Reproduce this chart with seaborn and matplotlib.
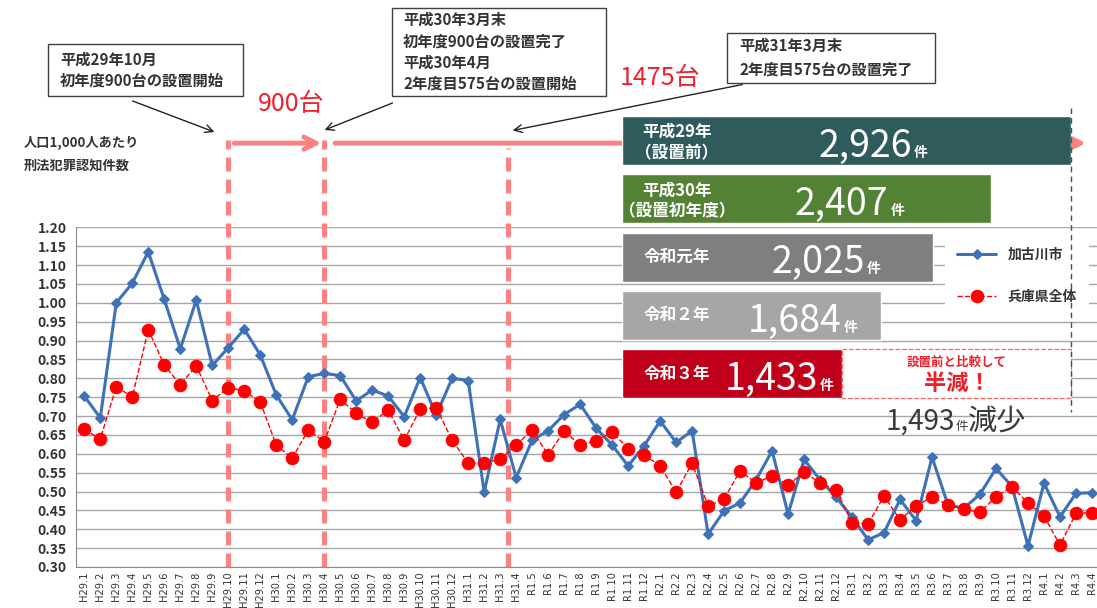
import numpy as np
import pandas as pd
import matplotlib
matplotlib.use("Agg")
import matplotlib.pyplot as plt
import seaborn as sns
from matplotlib.patches import Rectangle

# ---- データ ----
months = ([f"H29.{m}" for m in range(1, 13)] + [f"H30.{m}" for m in range(1, 13)]
          + [f"H31.{m}" for m in range(1, 5)] + [f"R1.{m}" for m in range(5, 13)]
          + [f"R2.{m}" for m in range(1, 13)] + [f"R3.{m}" for m in range(1, 13)]
          + [f"R4.{m}" for m in range(1, 5)])

kakogawa = [0.753, 0.695, 1.000, 1.052, 1.135, 1.009, 0.878, 1.007, 0.834, 0.881, 0.930, 0.862,
            0.756, 0.690, 0.804, 0.813, 0.807, 0.740, 0.769, 0.753, 0.698, 0.802, 0.703, 0.800,
            0.794, 0.498, 0.691, 0.537, 0.636, 0.661, 0.704, 0.731, 0.668, 0.623, 0.568, 0.621,
            0.687, 0.630, 0.661, 0.387, 0.449, 0.470, 0.531, 0.608, 0.440, 0.585, 0.531, 0.485,
            0.432, 0.372, 0.391, 0.479, 0.423, 0.591, 0.464, 0.456, 0.493, 0.561, 0.513, 0.356,
            0.522, 0.433, 0.495, 0.497]

hyogo = [0.665, 0.639, 0.778, 0.750, 0.929, 0.835, 0.783, 0.833, 0.741, 0.775, 0.767, 0.737,
         0.623, 0.588, 0.663, 0.632, 0.744, 0.707, 0.683, 0.716, 0.636, 0.718, 0.722, 0.636,
         0.575, 0.576, 0.585, 0.623, 0.663, 0.597, 0.660, 0.623, 0.634, 0.658, 0.613, 0.597,
         0.568, 0.498, 0.575, 0.462, 0.480, 0.555, 0.522, 0.542, 0.517, 0.551, 0.523, 0.504,
         0.417, 0.414, 0.488, 0.425, 0.462, 0.486, 0.464, 0.453, 0.445, 0.486, 0.513, 0.469,
         0.435, 0.358, 0.442, 0.444]

# 設置時期 (月のインデックス)
install_marks = [9, 15, 26.5]

years = ["平成29年\n（設置前）", "平成30年\n（設置初年度）", "令和元年", "令和２年", "令和３年"]
counts = [2926, 2407, 2025, 1684, 1433]
bar_colors = ["#2F5B5C", "#548235", "#7F7F7F", "#A6A6A6", "#C0001A"]

# ---- スタイル ----
sns.set_style("white")
plt.rcParams["font.family"] = ["Noto Sans CJK JP", "DejaVu Sans"]
NARROW = ["Liberation Sans Narrow", "Noto Sans CJK JP"]
TXT = "#333333"
PINK = "#FF8080"
RED = "#F0202A"

W, H = 1097, 608
fig = plt.figure(figsize=(W / 100, H / 100), dpi=100)


def box(x0, y0, x1, y1):
    return [x0 / W, 1 - y1 / H, (x1 - x0) / W, (y1 - y0) / H]


def ftext(x, y, s, **kw):
    fig.text(x / W, 1 - y / H, s, **kw)


# ---- 折れ線 ----
ax = fig.add_axes(box(76.3, 227.3, 1100, 567))
df = pd.DataFrame({"pos": np.arange(len(months)), "加古川市": kakogawa, "兵庫県全体": hyogo})

sns.lineplot(data=df, x="pos", y="加古川市", ax=ax, color="#3F71B7", linewidth=2.2,
             marker="D", markersize=5, markeredgecolor="#3F71B7", label="加古川市", zorder=3)
sns.lineplot(data=df, x="pos", y="兵庫県全体", ax=ax, color="#FF0000", linewidth=1,
             linestyle="--", marker="o", markersize=9, markeredgecolor="#FF0000",
             label="兵庫県全体", zorder=4)

ax.set_xlim(-0.5, len(months) - 0.5)
ax.set_ylim(0.30, 1.20)
yt = np.arange(0.30, 1.2001, 0.05)
ax.set_yticks(yt)
ax.set_yticklabels([f"{v:.2f}" for v in yt], fontsize=10, color=TXT, fontweight="bold")
ax.set_xticks(np.arange(len(months)))
ax.set_xticklabels(months, rotation=90, fontsize=7.1, color=TXT, family="DejaVu Sans")
ax.set_xticks(np.arange(-0.5, len(months)), minor=True)
ax.tick_params(axis="x", which="major", length=0, pad=3)
ax.tick_params(axis="x", which="minor", length=4, color="#8C8C8C")
ax.tick_params(axis="y", length=4, color="#8C8C8C", pad=3)
ax.yaxis.grid(True, color="#A6A6A6", linewidth=1)
ax.set_axisbelow(True)
ax.set_xlabel("")
ax.set_ylabel("")
for s in ["top", "right"]:
    ax.spines[s].set_visible(False)
for s in ["left", "bottom"]:
    ax.spines[s].set_color("#8C8C8C")

# 設置時期の縦線と矢印
tops = [1.43, 1.43, 1.41]
for pos, top in zip(install_marks, tops):
    ax.plot([pos, pos], [0.30, top], color=PINK, linewidth=3.6, dashes=(2.8, 1.6),
            clip_on=False, zorder=2, solid_capstyle="butt")
arrow_y = 1.423
ax.annotate("", xy=(install_marks[1], arrow_y), xytext=(install_marks[0] + 0.2, arrow_y),
            arrowprops=dict(arrowstyle="->", color=PINK, lw=3.5, mutation_scale=22),
            annotation_clip=False)
ax.annotate("", xy=(62.8, arrow_y), xytext=(install_marks[1] + 0.5, arrow_y),
            arrowprops=dict(arrowstyle="->", color=PINK, lw=3.5, mutation_scale=22),
            annotation_clip=False)

leg = ax.legend(loc="center", bbox_to_anchor=(1017 / W, 1 - 276 / H),
                bbox_transform=fig.transFigure, frameon=True, facecolor="white",
                edgecolor="none", framealpha=1, fancybox=False, fontsize=10,
                handlelength=2.8, labelspacing=2.0, borderpad=0.9)
for t in leg.get_texts():
    t.set_color(TXT)
    t.set_fontweight("bold")

# ---- 年別件数の横棒 ----
ax2 = fig.add_axes(box(622.3, 111.1, 1071, 403))
sns.barplot(x=counts, y=years, hue=years, palette=bar_colors, orient="h", width=0.84,
            saturation=1, legend=False, ax=ax2)
tr = ax2.get_yaxis_transform()
for i, (name, n) in enumerate(zip(years, counts)):
    lines = name.split("\n")
    offs = [-0.145, 0.215] if len(lines) == 2 else [0.0]
    for ln, o in zip(lines, offs):
        ax2.text(0.122, i + o, ln, transform=tr, ha="center", va="center",
                 color="white", fontsize=12, fontweight="bold")
    xr = (911.7 - 23.4 * i - 622.3) / 448.7
    ax2.text(xr, i + 0.28, f"{n:,}", transform=tr, ha="right", va="baseline",
             color="white", fontsize=27, family=NARROW)
    ax2.text(xr + 2 / 448.7, i + 0.28, "件", transform=tr, ha="left", va="baseline",
             color="white", fontsize=10, fontweight="bold")

# 半減ボックス
ax2.add_patch(Rectangle((counts[-1], 4 - 0.42), counts[0] - counts[-1], 0.84,
                        facecolor="white", edgecolor="#FF6060", linestyle="--",
                        linewidth=0.9, clip_on=False, zorder=3))
ax2.plot([counts[0], counts[0]], [-0.55, 4.65], color="#2F5B5C", linewidth=1,
         linestyle=(0, (4, 3)), clip_on=False, zorder=4)
ax2.set_xlim(0, counts[0])
ax2.set_ylim(len(years) - 0.5, -0.5)
ax2.axis("off")

ftext(957, 362, "設置前と比較して", ha="center", va="center", color=RED,
      fontsize=9, fontweight="bold")
ftext(957, 383, "半減！", ha="center", va="center", color=RED,
      fontsize=16, fontweight="bold")
ftext(955, 430, f"{counts[0] - counts[-1]:,}", ha="right", va="baseline", color="#3A3A3A",
      fontsize=20, family=NARROW)
ftext(956, 430, "件", ha="left", va="baseline", color="#3A3A3A", fontsize=9)
ftext(968, 430, "減少", ha="left", va="baseline", color="#3A3A3A", fontsize=21)

# ---- 注記 ----
ftext(24, 143, "人口1,000人あたり", ha="left", va="center", color=TXT, fontsize=9.5,
      fontweight="bold")
ftext(24, 166, "刑法犯罪認知件数", ha="left", va="center", color=TXT, fontsize=9.5,
      fontweight="bold")

notes = [
    ((48, 44, 243, 96), 60, [(60, "平成29年10月"), (81, "初年度900台の設置開始")]),
    ((392, 8, 606, 96), 403, [(20, "平成30年3月末"), (42, "初年度900台の設置完了"),
                              (63, "平成30年4月"), (84, "2年度目575台の設置開始")]),
    ((727, 33, 935, 83), 739, [(46, "平成31年3月末"), (70, "2年度目575台の設置完了")]),
]
for (x0, y0, x1, y1), tx, lines in notes:
    fig.add_artist(Rectangle((x0 / W, 1 - y1 / H), (x1 - x0) / W, (y1 - y0) / H,
                             transform=fig.transFigure, facecolor="white",
                             edgecolor="#404040", linewidth=1))
    for ty, s in lines:
        ftext(tx, ty, s, ha="left", va="center", color=TXT, fontsize=11,
              fontweight="bold")

for (x0, y0), (x1, y1) in [((130, 100), (217, 133)), ((395, 102), (322, 131)),
                           ((745, 84), (510, 131))]:
    ax.annotate("", xy=(x1, H - y1), xycoords="figure pixels", xytext=(x0, H - y0),
                textcoords="figure pixels", annotation_clip=False,
                arrowprops=dict(arrowstyle="->", color="#222222", lw=1, mutation_scale=14))

ftext(291, 104, "900台", ha="center", va="center", color=RED, fontsize=18)
ftext(660, 78, "1475台", ha="center", va="center", color=RED, fontsize=18)

plt.savefig("out.png", dpi=100)
plt.close()
